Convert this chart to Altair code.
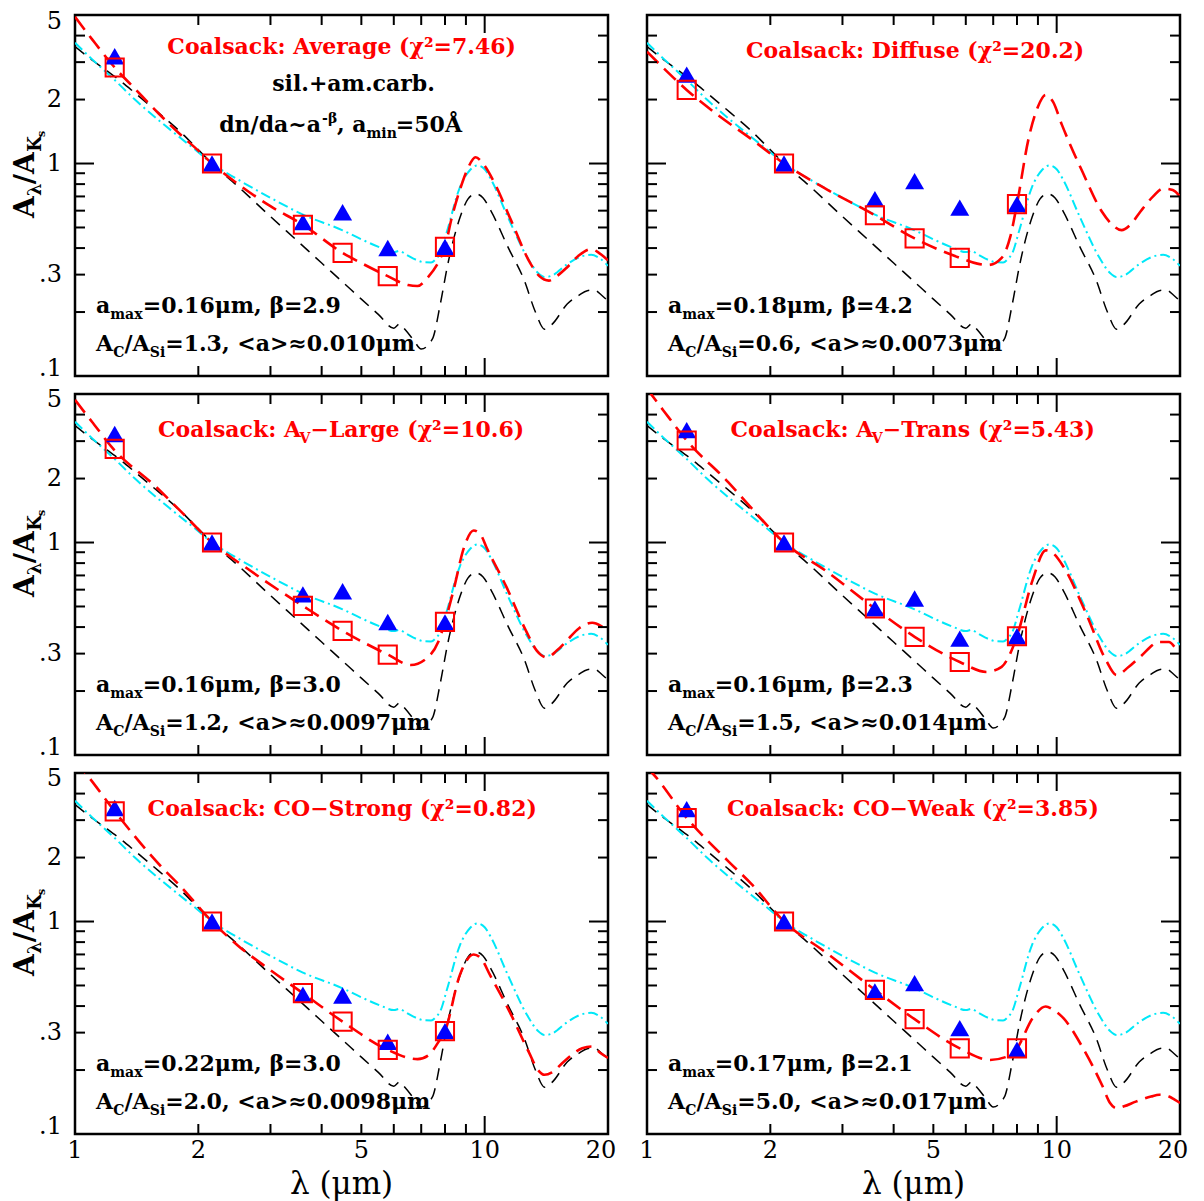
import altair as alt
import pandas as pd

# ---------------- data ----------------
BANDS = [1.25, 2.16, 3.6, 4.5, 5.8, 8.0]

AMAX = ["0.16", "0.18", "0.16", "0.16", "0.22", "0.17"]
BETA = ["2.9", "4.2", "3.0", "2.3", "3.0", "2.1"]
AC_ASI = ["1.3", "0.6", "1.2", "1.5", "2.0", "5.0"]
AMEAN = ["0.010", "0.0073", "0.0097", "0.014", "0.0098", "0.017"]

# observed (blue triangles)
OBS = [
    [3.2, 1.0, 0.53, 0.59, 0.40, 0.405],
    [2.62, 1.0, 0.68, 0.826, 0.62, 0.644],
    [3.24, 1.0, 0.57, 0.59, 0.423, 0.42],
    [3.38, 1.0, 0.49, 0.545, 0.353, 0.362],
    [3.42, 1.0, 0.452, 0.449, 0.272, 0.305],
    [3.38, 1.0, 0.469, 0.513, 0.315, 0.249],
]
# model at the bands (red open squares)
MOD = [
    [2.83, 1.0, 0.515, 0.38, 0.295, 0.405],
    [2.22, 1.0, 0.571, 0.444, 0.36, 0.644],
    [2.76, 1.0, 0.503, 0.384, 0.297, 0.423],
    [3.02, 1.0, 0.489, 0.36, 0.274, 0.362],
    [3.3, 1.0, 0.46, 0.338, 0.249, 0.305],
    [3.07, 1.0, 0.477, 0.347, 0.253, 0.253],
]

BLACK_LAM = [1.0, 1.1, 1.2, 1.3, 1.4, 1.6, 1.8, 2.0, 2.16, 2.5, 3.0, 3.5, 4.0, 4.5,
             5.0, 5.5, 6.0, 6.2, 6.4, 6.7, 7.0, 7.45, 7.8, 8.1, 8.7, 9.1, 9.5, 9.9,
             10.35, 11.4, 12.5, 13.3, 14.0, 14.6, 15.9, 17.0, 17.8, 18.5, 19.3, 20.0]
BLACK_A = [3.55, 3.07, 2.72, 2.42, 2.15, 1.73, 1.42, 1.16, 1.0, 0.78, 0.563, 0.43, 0.34, 0.277,
           0.23, 0.195, 0.168, 0.176, 0.165, 0.148, 0.134, 0.149, 0.22, 0.325, 0.555, 0.68, 0.72, 0.69,
           0.6, 0.404, 0.281, 0.2, 0.166, 0.175, 0.218, 0.24, 0.252, 0.254, 0.24, 0.225]

CYAN_LAM = [1.0, 1.1, 1.25, 1.4, 1.6, 1.8, 2.0, 2.16, 2.5, 3.0, 3.6, 4.5, 5.0, 5.6, 6.0,
            6.2, 6.4, 6.7, 7.1, 7.4, 7.6, 7.8, 8.1, 8.7, 9.2, 9.6, 10.0, 10.4, 11.4, 12.7,
            13.5, 14.0, 14.6, 15.9, 17.0, 18.2, 19.0, 20.0]
CYAN_A = [3.7, 3.1, 2.47, 2.0, 1.6, 1.33, 1.13, 1.0, 0.84, 0.69, 0.575, 0.485, 0.44, 0.4, 0.383,
          0.388, 0.375, 0.357, 0.343, 0.342, 0.355, 0.38, 0.483, 0.773, 0.93, 0.98, 0.94, 0.83, 0.558, 0.362,
          0.305, 0.292, 0.297, 0.336, 0.362, 0.372, 0.36, 0.33]

RED_LAM = [
    [1.0, 1.1, 1.25, 1.4, 1.6, 1.8, 2.0, 2.16, 2.5, 3.0, 3.6, 4.5, 5.0, 5.8, 6.5, 6.85, 7.25, 7.75,
     8.0, 8.3, 8.74, 9.1, 9.5, 9.9, 10.6, 11.6, 12.96, 13.6, 14.35, 15.0, 15.9, 17.0, 18.2, 19.0, 20.0],
    [1.0, 1.1, 1.25, 1.49, 1.8, 2.16, 2.72, 3.6, 4.5, 5.8, 6.4, 6.81, 7.34, 7.7, 8.0, 8.54, 9.0, 9.4,
     9.8, 10.3, 11.56, 12.9, 13.6, 14.4, 15.2, 16.0, 17.2, 18.2, 19.2, 20.0],
    [1.0, 1.1, 1.24, 1.58, 1.8, 2.16, 2.67, 3.6, 4.5, 5.8, 6.6, 7.2, 7.7, 8.0, 8.4, 8.91, 9.4, 9.8,
     10.1, 11.3, 12.6, 13.4, 14.2, 15.0, 15.9, 17.0, 18.3, 19.2, 20.0],
    [1.0, 1.1, 1.25, 1.58, 1.8, 2.16, 2.72, 3.6, 4.5, 5.8, 6.74, 7.34, 7.7, 8.0, 8.73, 9.4, 9.8, 10.4,
     11.8, 13.2, 14.0, 15.0, 16.0, 17.8, 18.8, 19.6, 20.0],
    [1.0, 1.06, 1.25, 1.62, 1.8, 2.16, 2.5, 3.0, 3.6, 4.5, 5.8, 6.86, 7.3, 7.7, 8.0, 8.7, 9.4, 9.8,
     10.3, 11.5, 12.8, 13.5, 14.0, 14.6, 15.6, 17.3, 18.3, 19.2, 20.0],
    [1.0, 1.03, 1.25, 1.58, 1.8, 2.16, 2.72, 3.6, 4.5, 5.8, 6.88, 7.5, 8.0, 8.73, 9.4, 9.8, 10.4,
     11.6, 12.9, 13.5, 14.0, 14.6, 15.6, 17.0, 17.8, 18.8, 19.4, 20.0],
]
RED_A = [
    [4.9, 3.85, 2.83, 2.25, 1.72, 1.38, 1.15, 1.0, 0.8, 0.63, 0.515, 0.38, 0.34, 0.295, 0.268, 0.265, 0.29, 0.35,
     0.405, 0.55, 0.773, 0.95, 1.07, 1.0, 0.8, 0.54, 0.336, 0.295, 0.281, 0.295, 0.325, 0.37, 0.396, 0.38, 0.35],
    [3.36, 2.8, 2.22, 1.69, 1.3, 1.0, 0.764, 0.571, 0.444, 0.36, 0.338, 0.333, 0.36, 0.45, 0.644, 1.31, 1.85, 2.1,
     1.95, 1.52, 0.914, 0.593, 0.52, 0.486, 0.52, 0.593, 0.7, 0.763, 0.75, 0.7],
    [4.69, 3.7, 2.76, 1.82, 1.42, 1.0, 0.74, 0.503, 0.384, 0.297, 0.265, 0.284, 0.34, 0.423, 0.6, 0.953, 1.14, 1.08,
     0.95, 0.618, 0.386, 0.31, 0.288, 0.31, 0.347, 0.395, 0.419, 0.405, 0.38],
    [5.3, 4.15, 3.02, 1.92, 1.45, 1.0, 0.74, 0.489, 0.36, 0.274, 0.246, 0.26, 0.3, 0.362, 0.664, 0.918, 0.89, 0.767,
     0.463, 0.279, 0.238, 0.26, 0.29, 0.34, 0.34, 0.317, 0.31],
    [5.7, 5.0, 3.3, 1.82, 1.48, 1.0, 0.77, 0.59, 0.46, 0.338, 0.249, 0.225, 0.235, 0.27, 0.305, 0.561, 0.7, 0.67,
     0.561, 0.377, 0.244, 0.2, 0.19, 0.195, 0.219, 0.253, 0.258, 0.24, 0.228],
    [5.3, 5.0, 3.07, 1.92, 1.5, 1.0, 0.72, 0.477, 0.347, 0.253, 0.223, 0.23, 0.253, 0.35, 0.398, 0.385, 0.35,
     0.253, 0.17, 0.14, 0.132, 0.135, 0.142, 0.15, 0.153, 0.15, 0.145, 0.14],
]

# red panel titles: (text, is_subscript)
TITLES = [
    [("Coalsack: Average (χ²=7.46)", False)],
    [("Coalsack: Diffuse (χ²=20.2)", False)],
    [("Coalsack: A", False), ("V", True), ("−Large (χ²=10.6)", False)],
    [("Coalsack: A", False), ("V", True), ("−Trans (χ²=5.43)", False)],
    [("Coalsack: CO−Strong (χ²=0.82)", False)],
    [("Coalsack: CO−Weak (χ²=3.85)", False)],
]

XLAB_VALS = [1, 2, 5, 10]
XLAB_TEXT = ["1", "2", "5", "10"]
YLAB_VALS = [2, 1, 0.3]
YLAB_TEXT = ["2", "1", ".3"]
X_MINOR = [2, 3, 4, 5, 6, 7, 8, 9]
X_MAJOR = [10]
Y_MINOR = [0.2, 0.3, 0.4, 0.5, 0.6, 0.7, 0.8, 0.9, 2, 3, 4]
Y_MAJOR = [1]

# ---------------- layout / style ----------------
FONT = "DejaVu Serif"
W, H = 533, 361
RED = "#ff0000"
BLUE = "#0000ff"
CYAN = "#00e8f8"

CW = {' ': .318, '.': .318, ',': .318, ':': .337, '/': .337, '(': .39, ')': .39,
      '=': .838, '+': .838, '<': .838, '>': .838, '~': .838, '≈': .838, '−': .838, '-': .338,
      'A': .722, 'C': .731, 'D': .83, 'K': .753, 'L': .637, 'O': .818, 'S': .685, 'T': .684,
      'V': .722, 'W': 1.04, 'a': .596, 'b': .64, 'c': .556, 'd': .64, 'e': .592, 'f': .371,
      'g': .64, 'h': .642, 'i': .32, 'k': .602, 'l': .32, 'm': .959, 'n': .642, 'o': .602,
      'r': .478, 's': .514, 't': .402, 'u': .642, 'v': .569, 'x': .569, 'Å': .722, 'μ': .65,
      'β': .64, 'χ': .6, 'λ': .6, '²': .4}
BOLD_F = 1.09


def tw(s, size, bold=False):
    return size * sum(CW.get(c, .636) for c in s) * (BOLD_F if bold else 1.0)


xs = alt.Scale(type="log", domain=[1, 20], nice=False)
ys = alt.Scale(type="log", domain=[0.1, 5], nice=False)


def X(f):
    return alt.X(f, type="quantitative", scale=xs, axis=None)


def Y(f):
    return alt.Y(f, type="quantitative", scale=ys, axis=None)


def text_layer(s, x, y, size, color="black", align="left", baseline="alphabetic",
               angle=0, bold=False):
    kw = dict(font=FONT, fontSize=size, color=color, align=align, baseline=baseline,
              fontWeight="bold" if bold else "normal")
    if angle:
        kw["angle"] = angle
    return alt.Chart(pd.DataFrame({"t": [s]})).mark_text(**kw).encode(
        x=alt.value(x), y=alt.value(y), text="t:N")


def rich(segs, x, y, color="black", center=False, bold=True):
    total = sum(tw(s, sz, bold) for s, sz, sh in segs)
    cx = x - total / 2 if center else x
    out = []
    for s, sz, sh in segs:
        out.append(text_layer(s, cx, y + sh, sz, color, bold=bold))
        cx += tw(s, sz, bold)
    return out


def rich_rot(segs, xb, y0, bold=True):
    cy = y0
    out = []
    for s, sz, sh in segs:
        out.append(text_layer(s, xb + sh, cy, sz, angle=270, bold=bold))
        cy -= tw(s, sz, bold)
    return out


def line(lam, a, color, width, dash):
    df = pd.DataFrame({"lam": lam, "A": a})
    return alt.Chart(df).mark_line(color=color, strokeWidth=width, strokeDash=dash,
                                   clip=True, interpolate="monotone").encode(x=X("lam"), y=Y("A"))


def xrules(vals, y1, y2):
    return alt.Chart(pd.DataFrame({"v": vals})).mark_rule(color="black", strokeWidth=2).encode(
        x=X("v"), y=alt.value(y1), y2=alt.value(y2))


def yrules(vals, x1, x2):
    return alt.Chart(pd.DataFrame({"v": vals})).mark_rule(color="black", strokeWidth=2).encode(
        y=Y("v"), x=alt.value(x1), x2=alt.value(x2))


TS = 22     # title font (bold)
AS = 22     # annotation font (bold)
SS = 14     # subscript font (bold)


def ylabel(val, txt, dy):
    return alt.Chart(pd.DataFrame({"v": [val], "t": [txt]})).mark_text(
        font=FONT, fontSize=24, align="right", baseline="middle", dy=dy).encode(
        x=alt.value(-13), y=Y("v"), text="t:N")


def panel(i):
    layers = [
        line(BLACK_LAM, BLACK_A, "black", 1.5, [12, 8]),
        line(CYAN_LAM, CYAN_A, CYAN, 2, [10, 4, 2, 4]),
        line(RED_LAM[i], RED_A[i], RED, 2.6, [16, 8]),
        alt.Chart(pd.DataFrame({"lam": BANDS, "A": OBS[i]})).mark_point(
            shape="triangle-up", filled=True, color=BLUE, size=360, opacity=1).encode(
            x=X("lam"), y=Y("A")),
        alt.Chart(pd.DataFrame({"lam": BANDS, "A": MOD[i]})).mark_point(
            shape="square", filled=False, color=RED, size=330, strokeWidth=2, opacity=1).encode(
            x=X("lam"), y=Y("A")),
        xrules(X_MINOR, H, H - 10), xrules(X_MINOR, 0, 10),
        xrules(X_MAJOR, H, H - 18), xrules(X_MAJOR, 0, 18),
        yrules(Y_MINOR, 0, 10), yrules(Y_MINOR, W, W - 10),
        yrules(Y_MAJOR, 0, 19), yrules(Y_MAJOR, W, W - 19),
    ]
    # red title
    tb = 39 if i == 0 else 43
    segs = [(s, SS if sub else TS, 6 if sub else 0) for s, sub in TITLES[i]]
    layers += rich(segs, W / 2, tb, RED, center=True)
    # panel-1 extra text
    if i == 0:
        layers.append(text_layer("sil.+am.carb.", 278.5, 75.7, AS, align="center", bold=True))
        layers += rich([("dn/da~a", AS, 0), ("-β", SS, -9), (", a", AS, 0), ("min", SS, 6),
                        ("=50Å", AS, 0)], W / 2, 117.3, center=True)
    # parameter text
    layers += rich([("a", AS, 0), ("max", SS, 6), ("=%sμm, β=%s" % (AMAX[i], BETA[i]), AS, 0)],
                   21, 298.3)
    layers += rich([("A", AS, 0), ("C", SS, 6), ("/A", AS, 0), ("Si", SS, 6),
                    ("=%s, <a>≈%sμm" % (AC_ASI[i], AMEAN[i]), AS, 0)], 21, 335.8)
    # left column: y labels + y title
    if i % 2 == 0:
        layers.append(alt.Chart(pd.DataFrame({"v": YLAB_VALS, "t": YLAB_TEXT})).mark_text(
            font=FONT, fontSize=24, align="right", baseline="middle").encode(
            x=alt.value(-13), y=Y("v"), text="t:N"))
        layers.append(ylabel(5, "5", 7 if i == 0 else 6))
        layers.append(ylabel(0.1, ".1", -7))
        layers += rich_rot([("A", 28, 0), ("λ", 18, 7), ("/A", 28, 0), ("K", 18, 7), ("s", 11, 11)],
                           -41, 203)
    # bottom row: x labels + title
    if i >= 4:
        layers.append(alt.Chart(pd.DataFrame({"v": XLAB_VALS, "t": XLAB_TEXT})).mark_text(
            font=FONT, fontSize=24, align="center", baseline="top").encode(
            x=X("v"), y=alt.value(H + 5), text="t:N"))
        layers.append(alt.Chart(pd.DataFrame({"v": [20], "t": ["20"]})).mark_text(
            font=FONT, fontSize=24, align="center", baseline="top", dx=-7).encode(
            x=X("v"), y=alt.value(H + 5), text="t:N"))
        layers.append(text_layer("λ (μm)", W / 2, H + 60, 31, align="center"))
    return alt.layer(*layers).properties(width=W, height=H)


chart = alt.concat(*[panel(i) for i in range(6)], columns=2,
                   spacing={"row": 18, "column": 39}, bounds="flush").properties(
    padding={"left": 2, "top": 0, "right": 0, "bottom": 0},
    background="white",
).configure_view(stroke="black", strokeWidth=2.5)

chart.save("out.html", embed_options={"renderer": "svg", "actions": False})
